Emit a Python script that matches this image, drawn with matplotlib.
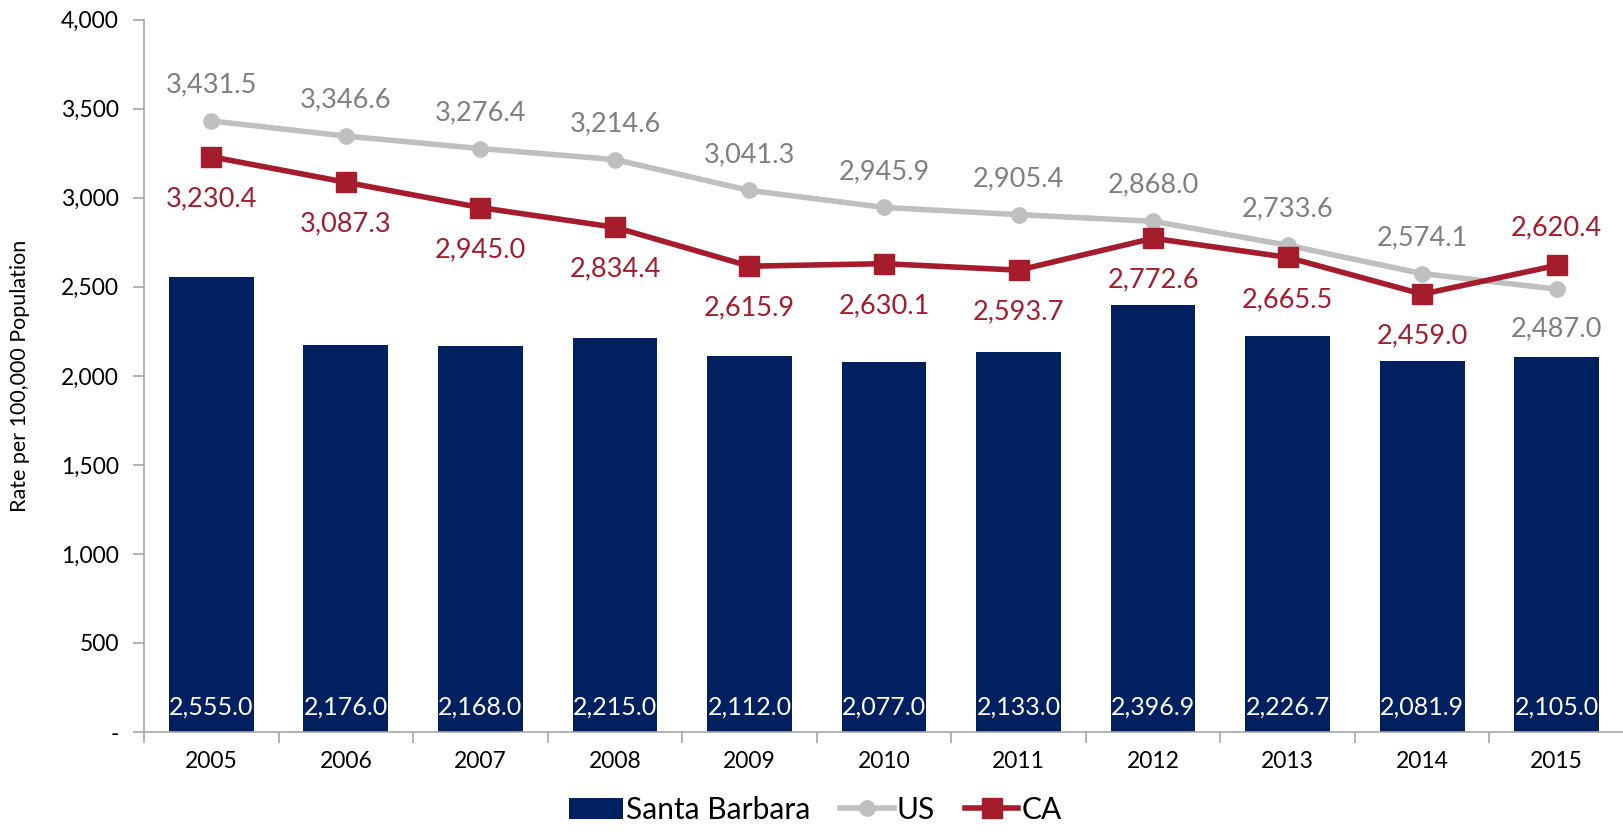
import matplotlib.pyplot as plt
import numpy as np

years = ['2005', '2006', '2007', '2008', '2009', '2010', '2011', '2012', '2013', '2014', '2015']
santa_barbara = [2555.0, 2176.0, 2168.0, 2215.0, 2112.0, 2077.0, 2133.0, 2396.9, 2226.7, 2081.9, 2105.0]
us = [3431.5, 3346.6, 3276.4, 3214.6, 3041.3, 2945.9, 2905.4, 2868.0, 2733.6, 2574.1, 2487.0]
ca = [3230.4, 3087.3, 2945.0, 2834.4, 2615.9, 2630.1, 2593.7, 2772.6, 2665.5, 2459.0, 2620.4]
yticks = [0, 500, 1000, 1500, 2000, 2500, 3000, 3500, 4000]
ytick_labels = ['-', '500', '1,000', '1,500', '2,000', '2,500', '3,000', '3,500', '4,000']

NAVY = '#002060'
GREY = '#BFBFBF'
GREY_TXT = '#7F7F7F'
RED = '#A51C2C'

plt.rcParams['font.family'] = ['Lato', 'DejaVu Sans']

fig = plt.figure(figsize=(16.24, 8.39), dpi=100)
ax = fig.add_axes([0.0887, 0.1275, 0.9113, 0.849])

x = np.arange(len(years))
bars = ax.bar(x, santa_barbara, width=0.63, color=NAVY, label='Santa Barbara', zorder=2)
l_us, = ax.plot(x, us, color=GREY, lw=4, marker='o', ms=11, label='US', zorder=3)
l_ca, = ax.plot(x, ca, color=RED, lw=4, marker='s', ms=14, label='CA', zorder=4)

for i in range(len(years)):
    ax.annotate(f'{santa_barbara[i]:,.1f}', (x[i], 0), xytext=(0, 25), textcoords='offset pixels',
                ha='center', va='center', color='white', fontsize=18)
    # US above, CA below, except where CA is higher
    if ca[i] > us[i]:
        us_off, ca_off = -40, 38
    else:
        us_off, ca_off = 36, -42
    ax.annotate(f'{us[i]:,.1f}', (x[i], us[i]), xytext=(0, us_off), textcoords='offset pixels',
                ha='center', va='center', color=GREY_TXT, fontsize=19.5)
    ax.annotate(f'{ca[i]:,.1f}', (x[i], ca[i]), xytext=(0, ca_off), textcoords='offset pixels',
                ha='center', va='center', color=RED, fontsize=19.5)

ax.set_xlim(-0.5, len(years) - 0.5)
ax.set_ylim(0, 4000)
ax.set_yticks(yticks)
ax.set_yticklabels(ytick_labels, fontsize=16.5)
ax.set_xticks(np.arange(-0.5, len(years)), minor=False)
ax.set_xticklabels([])
ax.set_xticks(x, minor=True)
ax.set_xticklabels(years, minor=True, fontsize=16.5)
ax.tick_params(axis='x', which='major', length=8, color='#A6A6A6', width=1.2)
ax.tick_params(axis='x', which='minor', length=0, pad=14)
ax.tick_params(axis='y', length=8, color='#A6A6A6', width=1.2, pad=10)
ax.set_ylabel('Rate per 100,000 Population', fontsize=15.5)
ax.yaxis.set_label_coords(-0.077, 0.5)

for s in ['top', 'right']:
    ax.spines[s].set_visible(False)
for s in ['left', 'bottom']:
    ax.spines[s].set_color('#A6A6A6')
    ax.spines[s].set_linewidth(1.2)

fig.legend([bars, l_us, l_ca], ['Santa Barbara', 'US', 'CA'], loc='lower center',
           bbox_to_anchor=(0.502, -0.014), ncol=3, frameon=False,
           fontsize=21.5, handlelength=1.8, handletextpad=0.1, columnspacing=1.0)

fig.savefig('out.png', dpi=100)
